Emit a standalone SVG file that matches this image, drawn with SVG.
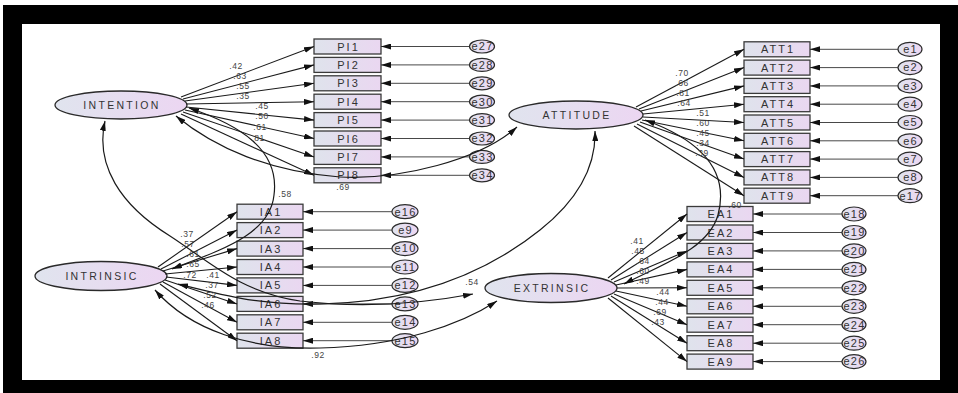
<svg xmlns="http://www.w3.org/2000/svg" width="958" height="393" viewBox="0 0 958 393">
<style>
.bx{fill:url(#g);stroke:#3a3a3a;stroke-width:1.3}
.lat{fill:url(#g2);stroke:#2a2a2a;stroke-width:1.3}
.er{fill:url(#g2);stroke:#2a2a2a;stroke-width:1.2}
.t{font-family:"Liberation Sans",Arial,sans-serif;font-size:11px;fill:#333;text-anchor:middle;letter-spacing:2px}
.tl{font-family:"Liberation Sans",Arial,sans-serif;font-size:10.5px;fill:#333;text-anchor:middle;letter-spacing:2.3px}
.te{font-family:"Liberation Sans",Arial,sans-serif;font-size:11px;fill:#333;text-anchor:middle;letter-spacing:1.2px}
.w{font-family:"Liberation Sans",Arial,sans-serif;font-size:8.5px;fill:#444;text-anchor:middle;letter-spacing:0.5px}
.ld{stroke:#1a1a1a;stroke-width:1.1;fill:none;marker-end:url(#ah)}
.eln{stroke:#333;stroke-width:0.9;fill:none;marker-end:url(#ah)}
.cv{stroke:#1a1a1a;stroke-width:1.2;fill:none;marker-start:url(#ah);marker-end:url(#ah)}
</style>
<defs>
<linearGradient id="g" x1="0" y1="0" x2="1" y2="0">
<stop offset="0" stop-color="#dfe3ec"/><stop offset="1" stop-color="#ead7f1"/>
</linearGradient>
<linearGradient id="g2" x1="0" y1="0" x2="1" y2="0">
<stop offset="0" stop-color="#e0e4ee"/><stop offset="1" stop-color="#ecd6f2"/>
</linearGradient>
<marker id="ah" viewBox="0 0 10 6" refX="10" refY="3" markerWidth="10" markerHeight="6" markerUnits="userSpaceOnUse" orient="auto-start-reverse">
<path d="M0,0 L10,3 L0,6 z" fill="#111"/>
</marker>
</defs>
<rect x="0" y="0" width="958" height="393" fill="#fff"/>
<rect x="3" y="5" width="955" height="388" fill="#000"/>
<rect x="22" y="24" width="918" height="356" fill="#fff"/>
<text class="w" x="343" y="190">.69</text>
<g id="INTENTION"><ellipse class="lat" cx="121" cy="105" rx="66" ry="14"/><text class="tl" x="122" y="109">INTENTION</text></g>
<g id="ATTITUDE"><ellipse class="lat" cx="576" cy="115" rx="67" ry="14"/><text class="tl" x="577" y="119">ATTITUDE</text></g>
<g id="INTRINSIC"><ellipse class="lat" cx="101" cy="276" rx="66" ry="14.5"/><text class="tl" x="102" y="280">INTRINSIC</text></g>
<g id="EXTRINSIC"><ellipse class="lat" cx="551" cy="288" rx="66" ry="14.5"/><text class="tl" x="552" y="292">EXTRINSIC</text></g>
<g id="PI1"><rect class="bx" x="314" y="39" width="67" height="15"/><text class="t" x="348.5" y="50.5">PI1</text></g>
<g id="PI2"><rect class="bx" x="314" y="57.4" width="67" height="15"/><text class="t" x="348.5" y="68.9">PI2</text></g>
<g id="PI3"><rect class="bx" x="314" y="75.8" width="67" height="15"/><text class="t" x="348.5" y="87.3">PI3</text></g>
<g id="PI4"><rect class="bx" x="314" y="94.2" width="67" height="15"/><text class="t" x="348.5" y="105.7">PI4</text></g>
<g id="PI5"><rect class="bx" x="314" y="112.6" width="67" height="15"/><text class="t" x="348.5" y="124.1">PI5</text></g>
<g id="PI6"><rect class="bx" x="314" y="131" width="67" height="15"/><text class="t" x="348.5" y="142.5">PI6</text></g>
<g id="PI7"><rect class="bx" x="314" y="149.4" width="67" height="15"/><text class="t" x="348.5" y="160.9">PI7</text></g>
<g id="PI8"><rect class="bx" x="314" y="167.8" width="67" height="15"/><text class="t" x="348.5" y="179.3">PI8</text></g>
<g id="e27"><ellipse class="er" cx="482" cy="46.5" rx="12.5" ry="6.5"/><text class="te" x="482.5" y="50.3">e27</text></g>
<g id="e28"><ellipse class="er" cx="482" cy="64.9" rx="12.5" ry="6.5"/><text class="te" x="482.5" y="68.7">e28</text></g>
<g id="e29"><ellipse class="er" cx="482" cy="83.3" rx="12.5" ry="6.5"/><text class="te" x="482.5" y="87.1">e29</text></g>
<g id="e30"><ellipse class="er" cx="482" cy="101.7" rx="12.5" ry="6.5"/><text class="te" x="482.5" y="105.5">e30</text></g>
<g id="e31"><ellipse class="er" cx="482" cy="120.1" rx="12.5" ry="6.5"/><text class="te" x="482.5" y="123.9">e31</text></g>
<g id="e32"><ellipse class="er" cx="482" cy="138.5" rx="12.5" ry="6.5"/><text class="te" x="482.5" y="142.3">e32</text></g>
<g id="e33"><ellipse class="er" cx="482" cy="156.9" rx="12.5" ry="6.5"/><text class="te" x="482.5" y="160.7">e33</text></g>
<g id="e34"><ellipse class="er" cx="482" cy="175.3" rx="12.5" ry="6.5"/><text class="te" x="482.5" y="179.1">e34</text></g>
<g id="ATT1"><rect class="bx" x="744" y="41.8" width="66" height="15"/><text class="t" x="778" y="53.3">ATT1</text></g>
<g id="ATT2"><rect class="bx" x="744" y="60.1" width="66" height="15"/><text class="t" x="778" y="71.6">ATT2</text></g>
<g id="ATT3"><rect class="bx" x="744" y="78.4" width="66" height="15"/><text class="t" x="778" y="89.9">ATT3</text></g>
<g id="ATT4"><rect class="bx" x="744" y="96.7" width="66" height="15"/><text class="t" x="778" y="108.2">ATT4</text></g>
<g id="ATT5"><rect class="bx" x="744" y="115" width="66" height="15"/><text class="t" x="778" y="126.5">ATT5</text></g>
<g id="ATT6"><rect class="bx" x="744" y="133.3" width="66" height="15"/><text class="t" x="778" y="144.8">ATT6</text></g>
<g id="ATT7"><rect class="bx" x="744" y="151.6" width="66" height="15"/><text class="t" x="778" y="163.1">ATT7</text></g>
<g id="ATT8"><rect class="bx" x="744" y="169.9" width="66" height="15"/><text class="t" x="778" y="181.4">ATT8</text></g>
<g id="ATT9"><rect class="bx" x="744" y="188.2" width="66" height="15"/><text class="t" x="778" y="199.7">ATT9</text></g>
<g id="e1"><ellipse class="er" cx="910" cy="49.3" rx="12" ry="7"/><text class="te" x="910.5" y="53.1">e1</text></g>
<g id="e2"><ellipse class="er" cx="910" cy="67.6" rx="12" ry="7"/><text class="te" x="910.5" y="71.4">e2</text></g>
<g id="e3"><ellipse class="er" cx="910" cy="85.9" rx="12" ry="7"/><text class="te" x="910.5" y="89.7">e3</text></g>
<g id="e4"><ellipse class="er" cx="910" cy="104.2" rx="12" ry="7"/><text class="te" x="910.5" y="108">e4</text></g>
<g id="e5"><ellipse class="er" cx="910" cy="122.5" rx="12" ry="7"/><text class="te" x="910.5" y="126.3">e5</text></g>
<g id="e6"><ellipse class="er" cx="910" cy="140.8" rx="12" ry="7"/><text class="te" x="910.5" y="144.6">e6</text></g>
<g id="e7"><ellipse class="er" cx="910" cy="159.1" rx="12" ry="7"/><text class="te" x="910.5" y="162.9">e7</text></g>
<g id="e8"><ellipse class="er" cx="910" cy="177.4" rx="12" ry="7"/><text class="te" x="910.5" y="181.2">e8</text></g>
<g id="e17"><ellipse class="er" cx="910" cy="195.7" rx="12" ry="7"/><text class="te" x="910.5" y="199.5">e17</text></g>
<g id="EA1"><rect class="bx" x="687" y="206.5" width="66" height="15"/><text class="t" x="721" y="218">EA1</text></g>
<g id="EA2"><rect class="bx" x="687" y="225" width="66" height="15"/><text class="t" x="721" y="236.5">EA2</text></g>
<g id="EA3"><rect class="bx" x="687" y="243.4" width="66" height="15"/><text class="t" x="721" y="254.9">EA3</text></g>
<g id="EA4"><rect class="bx" x="687" y="261.9" width="66" height="15"/><text class="t" x="721" y="273.4">EA4</text></g>
<g id="EA5"><rect class="bx" x="687" y="280.3" width="66" height="15"/><text class="t" x="721" y="291.8">EA5</text></g>
<g id="EA6"><rect class="bx" x="687" y="298.8" width="66" height="15"/><text class="t" x="721" y="310.3">EA6</text></g>
<g id="EA7"><rect class="bx" x="687" y="317.2" width="66" height="15"/><text class="t" x="721" y="328.7">EA7</text></g>
<g id="EA8"><rect class="bx" x="687" y="335.7" width="66" height="15"/><text class="t" x="721" y="347.2">EA8</text></g>
<g id="EA9"><rect class="bx" x="687" y="354.1" width="66" height="15"/><text class="t" x="721" y="365.6">EA9</text></g>
<g id="e18"><ellipse class="er" cx="854" cy="214" rx="12" ry="7"/><text class="te" x="854.5" y="217.8">e18</text></g>
<g id="e19"><ellipse class="er" cx="854" cy="232.5" rx="12" ry="7"/><text class="te" x="854.5" y="236.3">e19</text></g>
<g id="e20"><ellipse class="er" cx="854" cy="250.9" rx="12" ry="7"/><text class="te" x="854.5" y="254.7">e20</text></g>
<g id="e21"><ellipse class="er" cx="854" cy="269.4" rx="12" ry="7"/><text class="te" x="854.5" y="273.2">e21</text></g>
<g id="e22"><ellipse class="er" cx="854" cy="287.8" rx="12" ry="7"/><text class="te" x="854.5" y="291.6">e22</text></g>
<g id="e23"><ellipse class="er" cx="854" cy="306.3" rx="12" ry="7"/><text class="te" x="854.5" y="310.1">e23</text></g>
<g id="e24"><ellipse class="er" cx="854" cy="324.7" rx="12" ry="7"/><text class="te" x="854.5" y="328.5">e24</text></g>
<g id="e25"><ellipse class="er" cx="854" cy="343.2" rx="12" ry="7"/><text class="te" x="854.5" y="347">e25</text></g>
<g id="e26"><ellipse class="er" cx="854" cy="361.6" rx="12" ry="7"/><text class="te" x="854.5" y="365.4">e26</text></g>
<g id="IA1"><rect class="bx" x="237" y="204.2" width="66" height="15"/><text class="t" x="271" y="215.7">IA1</text></g>
<g id="IA2"><rect class="bx" x="237" y="222.6" width="66" height="15"/><text class="t" x="271" y="234.1">IA2</text></g>
<g id="IA3"><rect class="bx" x="237" y="241.1" width="66" height="15"/><text class="t" x="271" y="252.6">IA3</text></g>
<g id="IA4"><rect class="bx" x="237" y="259.5" width="66" height="15"/><text class="t" x="271" y="271">IA4</text></g>
<g id="IA5"><rect class="bx" x="237" y="277.9" width="66" height="15"/><text class="t" x="271" y="289.4">IA5</text></g>
<g id="IA6"><rect class="bx" x="237" y="296.4" width="66" height="15"/><text class="t" x="271" y="307.9">IA6</text></g>
<g id="IA7"><rect class="bx" x="237" y="314.8" width="66" height="15"/><text class="t" x="271" y="326.3">IA7</text></g>
<g id="IA8"><rect class="bx" x="237" y="333.2" width="66" height="15"/><text class="t" x="271" y="344.7">IA8</text></g>
<g id="e16"><ellipse class="er" cx="405" cy="211.7" rx="13" ry="7"/><text class="te" x="405.5" y="215.5">e16</text></g>
<g id="e9"><ellipse class="er" cx="405" cy="230.1" rx="13" ry="7"/><text class="te" x="405.5" y="233.9">e9</text></g>
<g id="e10"><ellipse class="er" cx="405" cy="248.6" rx="13" ry="7"/><text class="te" x="405.5" y="252.4">e10</text></g>
<g id="e11"><ellipse class="er" cx="405" cy="267" rx="13" ry="7"/><text class="te" x="405.5" y="270.8">e11</text></g>
<g id="e12"><ellipse class="er" cx="405" cy="285.4" rx="13" ry="7"/><text class="te" x="405.5" y="289.2">e12</text></g>
<g id="e13"><ellipse class="er" cx="405" cy="303.9" rx="13" ry="7"/><text class="te" x="405.5" y="307.7">e13</text></g>
<g id="e14"><ellipse class="er" cx="405" cy="322.3" rx="13" ry="7"/><text class="te" x="405.5" y="326.1">e14</text></g>
<g id="e15"><ellipse class="er" cx="405" cy="340.7" rx="13" ry="7"/><text class="te" x="405.5" y="344.5">e15</text></g>
<g id="connectors">
<path class="ld" d="M181,97 L314,46.5"/>
<path class="ld" d="M183,99 L314,64.9"/>
<path class="ld" d="M185,101 L314,83.3"/>
<path class="ld" d="M186,104 L314,101.7"/>
<path class="ld" d="M186,107 L314,120.1"/>
<path class="ld" d="M185,110 L314,138.5"/>
<path class="ld" d="M183,112 L314,156.9"/>
<path class="ld" d="M181,114 L314,175.3"/>
<path class="ld" d="M636,107 L744,49.3"/>
<path class="ld" d="M639,109 L744,67.6"/>
<path class="ld" d="M641,111 L744,85.9"/>
<path class="ld" d="M643,114 L744,104.2"/>
<path class="ld" d="M643,117 L744,122.5"/>
<path class="ld" d="M642,120 L744,140.8"/>
<path class="ld" d="M640,122 L744,159.1"/>
<path class="ld" d="M637,124 L744,177.4"/>
<path class="ld" d="M634,126 L744,195.7"/>
<path class="ld" d="M608,278 L687,214"/>
<path class="ld" d="M611,280 L687,232.5"/>
<path class="ld" d="M614,282 L687,250.9"/>
<path class="ld" d="M616,285 L687,269.4"/>
<path class="ld" d="M617,288 L687,287.8"/>
<path class="ld" d="M616,291 L687,306.3"/>
<path class="ld" d="M614,294 L687,324.7"/>
<path class="ld" d="M611,296 L687,343.2"/>
<path class="ld" d="M608,298 L687,361.6"/>
<path class="ld" d="M158,267 L237,211.7"/>
<path class="ld" d="M161,269 L237,230.1"/>
<path class="ld" d="M163,271 L237,248.6"/>
<path class="ld" d="M165,274 L237,267"/>
<path class="ld" d="M166,277 L237,285.4"/>
<path class="ld" d="M165,280 L237,303.9"/>
<path class="ld" d="M163,282 L237,322.3"/>
<path class="ld" d="M160,284 L237,340.7"/>
<path class="eln" d="M469.5,46.5 L381,46.5"/>
<path class="eln" d="M469.5,64.9 L381,64.9"/>
<path class="eln" d="M469.5,83.3 L381,83.3"/>
<path class="eln" d="M469.5,101.7 L381,101.7"/>
<path class="eln" d="M469.5,120.1 L381,120.1"/>
<path class="eln" d="M469.5,138.5 L381,138.5"/>
<path class="eln" d="M469.5,156.9 L381,156.9"/>
<path class="eln" d="M469.5,175.3 L381,175.3"/>
<path class="eln" d="M898,49.3 L810,49.3"/>
<path class="eln" d="M898,67.6 L810,67.6"/>
<path class="eln" d="M898,85.9 L810,85.9"/>
<path class="eln" d="M898,104.2 L810,104.2"/>
<path class="eln" d="M898,122.5 L810,122.5"/>
<path class="eln" d="M898,140.8 L810,140.8"/>
<path class="eln" d="M898,159.1 L810,159.1"/>
<path class="eln" d="M898,177.4 L810,177.4"/>
<path class="eln" d="M898,195.7 L810,195.7"/>
<path class="eln" d="M842,214 L753,214"/>
<path class="eln" d="M842,232.5 L753,232.5"/>
<path class="eln" d="M842,250.9 L753,250.9"/>
<path class="eln" d="M842,269.4 L753,269.4"/>
<path class="eln" d="M842,287.8 L753,287.8"/>
<path class="eln" d="M842,306.3 L753,306.3"/>
<path class="eln" d="M842,324.7 L753,324.7"/>
<path class="eln" d="M842,343.2 L753,343.2"/>
<path class="eln" d="M842,361.6 L753,361.6"/>
<path class="eln" d="M392,211.7 L303,211.7"/>
<path class="eln" d="M392,230.1 L303,230.1"/>
<path class="eln" d="M392,248.6 L303,248.6"/>
<path class="eln" d="M392,267 L303,267"/>
<path class="eln" d="M392,285.4 L303,285.4"/>
<path class="eln" d="M392,303.9 L303,303.9"/>
<path class="eln" d="M392,322.3 L303,322.3"/>
<path class="eln" d="M392,340.7 L303,340.7"/>
<path class="cv" d="M105,121 C95,165 120,205 170,236 C210,262 240,292 300,301 C360,308 420,304 473,294"/>
<path class="cv" d="M189,108 C240,125 280,150 274,195 C270,235 220,250 172,269"/>
<path class="cv" d="M176,116 C215,148 270,172 340,177 C400,180 480,160 517,127"/>
<path class="cv" d="M178,284 C230,297 260,305 320,304 C420,302 490,270 540,230 C580,198 596,165 595,131"/>
<path class="cv" d="M645,120 C700,140 730,170 718,215 C708,250 660,265 624,284"/>
<path class="cv" d="M155,290 C190,330 250,350 320,348 C400,346 460,325 497,301"/>
</g>
<g id="weights">
<text class="w" x="236" y="69">.42</text>
<text class="w" x="240" y="79">.63</text>
<text class="w" x="243" y="89">.55</text>
<text class="w" x="243" y="99">.35</text>
<text class="w" x="262" y="109">.45</text>
<text class="w" x="262" y="119">.50</text>
<text class="w" x="260" y="130">.61</text>
<text class="w" x="258" y="141">.81</text>
<text class="w" x="682" y="76">.70</text>
<text class="w" x="682" y="86">.66</text>
<text class="w" x="683" y="96">.81</text>
<text class="w" x="684" y="106">.64</text>
<text class="w" x="703" y="116">.51</text>
<text class="w" x="703" y="126">.60</text>
<text class="w" x="703" y="136">.45</text>
<text class="w" x="703" y="146">.34</text>
<text class="w" x="702" y="156">.39</text>
<text class="w" x="637" y="244">.41</text>
<text class="w" x="638" y="254">.45</text>
<text class="w" x="643" y="264">.64</text>
<text class="w" x="643" y="274">.60</text>
<text class="w" x="643" y="284">.49</text>
<text class="w" x="663" y="295">.44</text>
<text class="w" x="662" y="305">.44</text>
<text class="w" x="660" y="315">.69</text>
<text class="w" x="658" y="325">.43</text>
<text class="w" x="187" y="237">.37</text>
<text class="w" x="188" y="247">.57</text>
<text class="w" x="193" y="257">.61</text>
<text class="w" x="193" y="267">.65</text>
<text class="w" x="190" y="278">.72</text>
<text class="w" x="213" y="278">.41</text>
<text class="w" x="212" y="288">.37</text>
<text class="w" x="210" y="298">.52</text>
<text class="w" x="208" y="308">.46</text>
<text class="w" x="285" y="197">.58</text>
<text class="w" x="472" y="285">.54</text>
<text class="w" x="318" y="358">.92</text>
<text class="w" x="735" y="208">.60</text>
</g>
</svg>
